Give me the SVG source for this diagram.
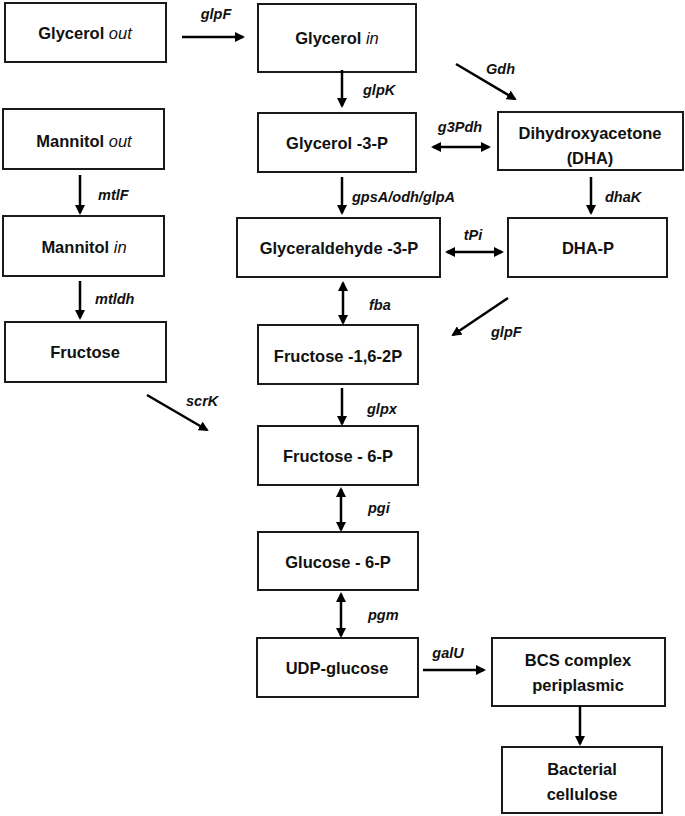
<svg xmlns="http://www.w3.org/2000/svg" width="685" height="816" viewBox="0 0 685 816">
<defs>
<marker id="ah" markerWidth="4" markerHeight="4" refX="3.2" refY="2" orient="auto-start-reverse" markerUnits="strokeWidth">
<path d="M0,0 L4,2 L0,4 Z" fill="#000"/>
</marker>
<style>
rect{fill:#fff;stroke:#1a1a1a;stroke-width:2}
.n{font-family:"Liberation Sans",Arial,sans-serif;font-weight:bold;font-size:16.5px;fill:#111;text-anchor:middle}
.i{font-weight:normal;font-style:italic}
.l{font-family:"Liberation Sans",Arial,sans-serif;font-weight:bold;font-style:italic;font-size:14.5px;fill:#111}
line{stroke:#000;stroke-width:2.5;marker-end:url(#ah)}
line.b{marker-start:url(#ah)}
</style>
</defs>
<g id="glycerol_out"><rect x="5" y="3" width="161" height="59"/><text class="n" x="85" y="39">Glycerol <tspan class="i">out</tspan></text></g>
<g id="glycerol_in"><rect x="258" y="4" width="158" height="68"/><text class="n" x="337" y="44">Glycerol <tspan class="i">in</tspan></text></g>
<g id="glycerol3p"><rect x="258" y="113" width="158" height="59"/><text class="n" x="337" y="149">Glycerol -3-P</text></g>
<g id="dha"><rect x="498" y="112" width="185" height="58"/><text class="n" x="590" y="139">Dihydroxyacetone</text><text class="n" x="590" y="164">(DHA)</text></g>
<g id="mannitol_out"><rect x="3" y="109" width="161" height="60"/><text class="n" x="84" y="147">Mannitol <tspan class="i">out</tspan></text></g>
<g id="mannitol_in"><rect x="3" y="216" width="161" height="60"/><text class="n" x="84" y="253">Mannitol <tspan class="i">in</tspan></text></g>
<g id="fructose"><rect x="5" y="322" width="161" height="60"/><text class="n" x="85" y="358">Fructose</text></g>
<g id="g3p"><rect x="237" y="218" width="203" height="59"/><text class="n" x="339" y="254">Glyceraldehyde -3-P</text></g>
<g id="dhap"><rect x="508" y="218" width="159" height="59"/><text class="n" x="588" y="254">DHA-P</text></g>
<g id="f16p"><rect x="258" y="325" width="160" height="59"/><text class="n" x="338" y="362">Fructose -1,6-2P</text></g>
<g id="f6p"><rect x="258" y="426" width="160" height="59"/><text class="n" x="338" y="462">Fructose - 6-P</text></g>
<g id="g6p"><rect x="258" y="532" width="160" height="58"/><text class="n" x="338" y="568">Glucose - 6-P</text></g>
<g id="udpg"><rect x="257" y="638" width="161" height="59"/><text class="n" x="337" y="674">UDP-glucose</text></g>
<g id="bcs"><rect x="492" y="638" width="173" height="68"/><text class="n" x="578" y="666">BCS complex</text><text class="n" x="578" y="691">periplasmic</text></g>
<g id="cellulose"><rect x="502" y="747" width="160" height="66"/><text class="n" x="582" y="775">Bacterial</text><text class="n" x="582" y="800">cellulose</text></g>
<g id="connectors">
<line x1="182" y1="37" x2="243" y2="37"/>
<line x1="342" y1="70" x2="342" y2="106"/>
<line x1="456" y1="64" x2="515" y2="99"/>
<line class="b" x1="433" y1="147" x2="489" y2="147"/>
<line x1="80" y1="175" x2="80" y2="213"/>
<line x1="80" y1="281" x2="80" y2="318"/>
<line x1="342" y1="177" x2="342" y2="213"/>
<line x1="591" y1="177" x2="591" y2="213"/>
<line class="b" x1="447" y1="252" x2="502" y2="252"/>
<line class="b" x1="343" y1="283" x2="343" y2="323"/>
<line x1="508" y1="298" x2="453" y2="335"/>
<line x1="147" y1="395" x2="207" y2="430"/>
<line x1="342" y1="388" x2="342" y2="424"/>
<line class="b" x1="341" y1="489" x2="341" y2="530"/>
<line class="b" x1="341" y1="594" x2="341" y2="636"/>
<line x1="423" y1="670" x2="484" y2="670"/>
<line x1="580" y1="706" x2="580" y2="744"/>
</g>
<g id="labels">
<text class="l" x="216" y="19" text-anchor="middle">glpF</text>
<text class="l" x="363" y="95">glpK</text>
<text class="l" x="486" y="74">Gdh</text>
<text class="l" x="460" y="132" text-anchor="middle">g3Pdh</text>
<text class="l" x="98" y="200">mtlF</text>
<text class="l" x="95" y="304">mtldh</text>
<text class="l" x="352" y="202">gpsA/odh/glpA</text>
<text class="l" x="605" y="202">dhaK</text>
<text class="l" x="473" y="240" text-anchor="middle">tPi</text>
<text class="l" x="369" y="310">fba</text>
<text class="l" x="491" y="337">glpF</text>
<text class="l" x="186" y="406">scrK</text>
<text class="l" x="367" y="414">glpx</text>
<text class="l" x="368" y="513">pgi</text>
<text class="l" x="368" y="620">pgm</text>
<text class="l" x="448" y="658" text-anchor="middle">galU</text>
</g>
</svg>
